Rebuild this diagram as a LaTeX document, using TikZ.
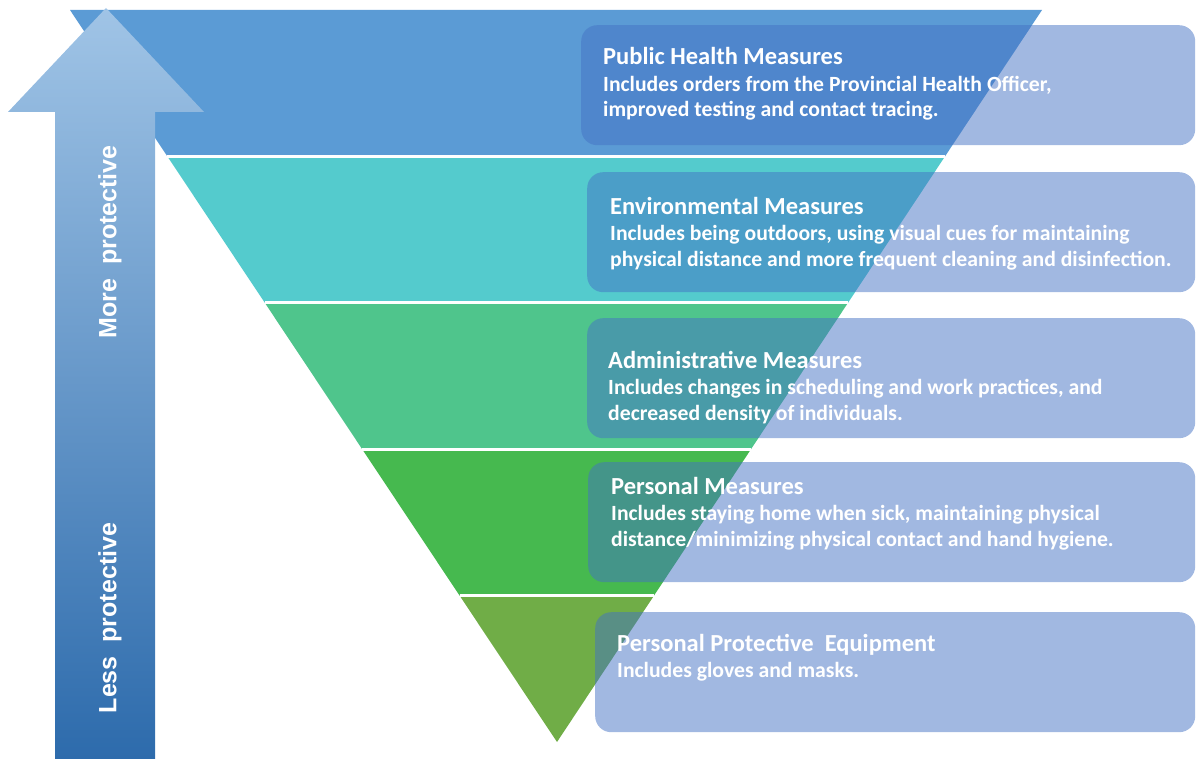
\documentclass[tikz,border=0pt]{standalone}
\usepackage{fontspec}
\setmainfont{Carlito}
\newfontfamily\arrowfont{Liberation Sans}
\usetikzlibrary{calc}

\definecolor{bandA}{RGB}{91,155,213}
\definecolor{bandB}{RGB}{84,203,205}
\definecolor{bandC}{RGB}{79,197,140}
\definecolor{bandD}{RGB}{70,185,79}
\definecolor{bandE}{RGB}{112,173,71}
\definecolor{boxblue}{RGB}{68,114,196}
\definecolor{arrowtop}{RGB}{160,196,230}
\definecolor{arrowbot}{RGB}{45,107,172}

\begin{document}
\begin{tikzpicture}[x=1pt,y=-1pt,
    box/.style={fill=boxblue,fill opacity=0.5,rounded corners=16pt,minimum height=120pt,inner sep=0pt,anchor=north west},
    head/.style={text=white,font=\fontsize{24.5}{26}\selectfont\bfseries,anchor=base west,inner sep=0pt},
    body/.style={text=white,font=\fontsize{21.7}{25.7}\selectfont\bfseries,align=left,anchor=base west,inner sep=0pt},
    side/.style={text=white,font=\arrowfont\fontsize{25}{28}\selectfont\bfseries,rotate=90,inner sep=0pt}]
    \useasboundingbox (0,0) rectangle (1196,759);
    % inverted triangle in five bands
    \coordinate (tl) at (70,10);
    \coordinate (tr) at (1042,10);
    \coordinate (apex) at (557,742);
    \foreach \c [count=\i from 0] in {bandA,bandB,bandC,bandD,bandE}
        \fill[\c] ($(tl)!\i/5!(apex)$) -- ($(tr)!\i/5!(apex)$) -- ($(tr)!{(\i+1)/5}!(apex)$) -- ($(tl)!{(\i+1)/5}!(apex)$) -- cycle;
    \foreach \i in {1,...,4}
        \draw[white,line width=3pt] ($(tl)!\i/5!(apex)$) -- ($(tr)!\i/5!(apex)$);
    % arrow on the left
    \shade[top color=arrowtop,bottom color=arrowbot] (106,8) -- (204,112) -- (155,112) -- (155,759) -- (55,759) -- (55,112) -- (8,112) -- cycle;
    \node[side] (more) at (110,242) {More\ \ protective};
    \node[side] (less) at (110,618) {Less\ \ protective};
    % boxes, text nodes sit on the baseline of their last line
    \node[box,minimum width=614pt] (pubbox) at (581,25) {};
    \node[box,minimum width=608pt] (envbox) at (587,172) {};
    \node[box,minimum width=608pt] (admbox) at (587,318) {};
    \node[box,minimum width=607pt] (perbox) at (588,462) {};
    \node[box,minimum width=600pt] (ppebox) at (595,612) {};
    \node[head] (pubhead) at (603,65) {Public Health Measures};
    \node[body] (pubtext) at (603,117) {Includes orders from the Provincial Health Officer,\\improved testing and contact tracing.};
    \node[head] (envhead) at (610,215) {Environmental Measures};
    \node[body] (envtext) at (610,266) {Includes being outdoors, using visual cues for maintaining\\physical distance and more frequent cleaning and disinfection.};
    \node[head] (admhead) at (608,368) {Administrative Measures};
    \node[body] (admtext) at (608,420) {Includes changes in scheduling and work practices, and\\decreased density of individuals.};
    \node[head] (perhead) at (611,494) {Personal Measures};
    \node[body] (pertext) at (611,546) {Includes staying home when sick, maintaining physical\\distance/minimizing physical contact and hand hygiene.};
    \node[head] (ppehead) at (617,651) {Personal Protective\ \ Equipment};
    \node[body] (ppetext) at (617,677) {Includes gloves and masks.};
\end{tikzpicture}
\end{document}
